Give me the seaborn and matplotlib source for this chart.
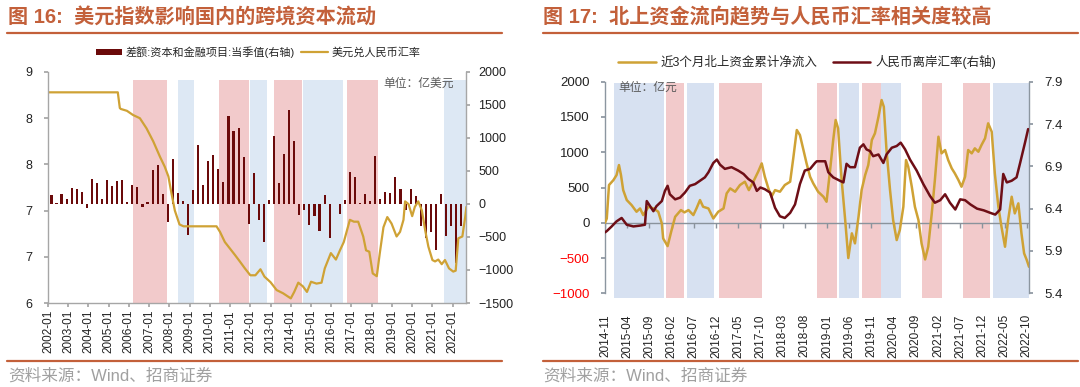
import numpy as np
import pandas as pd
import matplotlib
matplotlib.use("Agg")
import matplotlib.pyplot as plt
import seaborn as sns
from matplotlib.lines import Line2D
from matplotlib.patches import Patch

# =========================
# Data: left chart (figure 16)
# =========================
# capital & financial account balance, quarterly 2002Q1 - 2022Q2 (100 mn USD)
bop_quarters = pd.period_range("2002Q1", "2022Q2", freq="Q")
capital_flow = [141, 15, 150, 75, 247, 227, 177, -60, 384, 318, 81, 369,
                273, 343, 364, 30, 293, 258, -40, 25, 515, 596, 146, -273,
                687, 167, 50, -475, 207, 889, 293, 657, 737, 530, 328, 1338,
                1111, 1156, 717, -303, 465, -247, -581, 66, 1025, 318, 763, 1419,
                960, -167, -96, -313, -187, -414, 131, -515, 5, -146, 66, 480,
                404, 15, 151, 40, 732, 76, 182, 167, 404, 232, -96, 232,
                126, -338, -515, -429, -702, 151, -490, -328, -894, -328]

# USD/CNY (decimal year, rate)
usdcny_t = [2002.0, 2005.45, 2005.55, 2005.6, 2005.9, 2006.2, 2006.54, 2006.87, 2007.2,
            2007.54, 2007.77, 2007.95, 2008.1, 2008.27, 2008.5, 2008.7, 2009.5, 2010.33,
            2010.5, 2010.74, 2010.99, 2011.24, 2011.48, 2011.73, 2012.0, 2012.25, 2012.5,
            2012.7, 2013.0, 2013.3, 2013.62, 2014.0, 2014.17, 2014.37, 2014.6, 2014.8,
            2015.0, 2015.27, 2015.52, 2015.68, 2015.98, 2016.23, 2016.43, 2016.62, 2016.92,
            2017.12, 2017.33, 2017.58, 2017.72, 2017.88, 2018.05, 2018.25, 2018.4, 2018.58,
            2018.77, 2018.98, 2019.23, 2019.4, 2019.57, 2019.65, 2019.82, 2020.0, 2020.13,
            2020.3, 2020.48, 2020.64, 2020.8, 2021.0, 2021.13, 2021.29, 2021.46, 2021.62,
            2021.82, 2022.03, 2022.15, 2022.28, 2022.48, 2022.62, 2022.68]
usdcny = [8.28, 8.28, 8.11, 8.10, 8.08, 8.035, 8.0, 7.89, 7.75,
          7.58, 7.475, 7.37, 7.19, 7.0, 6.85, 6.83, 6.83, 6.83,
          6.77, 6.66, 6.59, 6.52, 6.45, 6.375, 6.30, 6.30, 6.365,
          6.285, 6.225, 6.14, 6.105, 6.05, 6.12, 6.22, 6.18, 6.12,
          6.23, 6.21, 6.22, 6.375, 6.54, 6.47, 6.57, 6.66, 6.90,
          6.88, 6.88, 6.72, 6.57, 6.555, 6.32, 6.29, 6.54, 6.82,
          6.93, 6.86, 6.72, 6.77, 6.90, 7.10, 7.07, 6.94, 7.04,
          7.10, 7.0, 6.79, 6.61, 6.465, 6.45, 6.47, 6.42, 6.465,
          6.375, 6.34, 6.35, 6.70, 6.72, 6.93, 7.04]

years_l = list(range(2002, 2023))
tick_labels_l = [f"{y}-01" for y in years_l]
pink_l = [(2006.2, 2007.86), (2010.44, 2011.93), (2013.16, 2014.53), (2016.79, 2018.31)]
blue_l = [(2008.43, 2009.2), (2012.0, 2012.83), (2014.61, 2016.56), (2021.57, 2022.66)]

# =========================
# Data: right chart (figure 17), x = months since 2014-11
# =========================
north_t = [0.0, 0.4, 0.9, 1.9, 2.6, 3.15, 3.6, 4.1, 4.9, 6.0, 7.1, 7.9, 8.6, 9.8, 10.9,
           12.0, 12.8, 13.1, 14.1, 14.9, 15.8, 17.1, 17.9, 18.8, 19.9, 20.6, 21.4, 22.1,
           23.3, 24.4, 25.5, 26.7, 27.4, 28.2, 29.3, 30.4, 31.5, 32.4, 33.4, 34.5, 35.3,
           36.0, 36.8, 37.5, 38.3, 39.4, 40.5, 41.7, 42.4, 43.2, 43.9, 44.7, 45.4, 46.2,
           46.9, 48.0, 49.2, 49.9, 50.7, 51.4, 51.95, 52.5, 53.3, 54.1, 54.8, 55.6, 56.3,
           57.1, 57.8, 58.6, 59.3, 60.1, 60.8, 61.6, 62.3, 62.8, 63.4, 64.2, 64.9, 65.7,
           66.4, 67.2, 67.8, 68.3, 69.1, 69.8, 70.6, 71.3, 72.1, 72.8, 73.6, 74.3, 75.1,
           75.8, 76.6, 77.3, 78.1, 78.8, 79.6, 80.3, 81.1, 81.8, 82.6, 83.3, 84.1, 84.8,
           85.6, 86.3, 87.1, 87.8, 88.6, 89.3, 90.1, 90.8, 91.6, 92.3, 93.1, 93.8, 94.4,
           95.0, 95.5]
north_flow = [0, 60, 535, 605, 676, 818, 676, 463, 322, 250, 156, 203, 109, 227, 203,
              156, -10, -222, -331, -128, 85, 180, 147, 180, 109, 203, 322, 227,
              203, 61, 156, 203, 416, 487, 440, 535, 582, 463, 582, 724, 842,
              653, 487, 369, 463, 440, 535, 582, 913, 1315, 1244, 1031, 842, 652,
              559, 440, 369, 298, 747, 1173, 1457, 1339, 606, 38, -500, -150, -292,
              85, 464, 677, 818, 1173, 1268, 1504, 1740, 1645, 1031, 464, 38, -245,
              -104, 227, 889, 794, 511, 227, 38, -292, -520, -340, 133, 606, 1220,
              984, 1031, 889, 771, 700, 606, 511, 652, 1031, 984, 1055, 1007, 1102,
              1197, 1410, 1291, 700, 227, -57, -340, 38, 369, 133, 275, -150, -434,
              -529, -624]

cnh_t = [0.0, 0.4, 1.5, 2.6, 3.75, 4.9, 6.4, 7.9, 9.0, 9.4, 9.9, 10.9, 11.6, 12.8, 13.5,
         14.1, 14.6, 15.8, 16.9, 18.0, 19.1, 20.3, 21.4, 22.5, 23.3, 24.4, 25.2, 25.9,
         27.0, 28.5, 30.0, 31.2, 32.3, 33.4, 34.2, 35.0, 36.0, 37.2, 38.3, 39.4, 40.5,
         41.7, 42.8, 43.9, 45.0, 46.2, 47.3, 47.7, 49.6, 50.3, 51.4, 52.9, 53.7, 54.4,
         55.2, 56.3, 57.4, 58.2, 58.9, 59.7, 60.4, 61.6, 62.7, 63.4, 64.6, 65.7, 66.6,
         67.6, 68.7, 70.2, 71.7, 73.2, 74.3, 75.5, 76.6, 77.7, 78.9, 80.0, 81.1, 82.3,
         83.8, 85.3, 86.8, 87.9, 89.0, 89.7, 90.5, 91.6, 92.7, 93.5, 94.6, 95.3]
cnh = [6.12, 6.135, 6.19, 6.25, 6.29, 6.21, 6.19, 6.20, 6.21, 6.49, 6.45, 6.37, 6.43, 6.49, 6.61,
       6.67, 6.57, 6.51, 6.53, 6.59, 6.67, 6.69, 6.73, 6.77, 6.83, 6.94, 6.98, 6.92,
       6.87, 6.89, 6.85, 6.81, 6.75, 6.71, 6.61, 6.65, 6.63, 6.59, 6.41, 6.31, 6.29,
       6.35, 6.45, 6.69, 6.85, 6.87, 6.94, 6.96, 6.96, 6.83, 6.77, 6.73, 6.71, 6.93,
       6.89, 6.89, 7.12, 7.16, 7.10, 7.08, 7.02, 7.04, 6.94, 7.04, 7.12, 7.14, 7.18,
       7.10, 6.98, 6.85, 6.69, 6.55, 6.47, 6.50, 6.57, 6.47, 6.39, 6.51, 6.50, 6.45,
       6.40, 6.38, 6.35, 6.33, 6.39, 6.81, 6.71, 6.73, 6.77, 6.94, 7.18, 7.34]

tick_labels_r = ["2014-11", "2015-04", "2015-09", "2016-02", "2016-07", "2016-12",
                 "2017-05", "2017-10", "2018-03", "2018-08", "2019-01", "2019-06",
                 "2019-11", "2020-04", "2020-09", "2021-02", "2021-07", "2021-12",
                 "2022-05", "2022-10"]
pink_r = [(13.7, 17.9), (25.6, 35.3), (47.8, 52.3), (57.8, 62.1), (71.5, 75.9), (80.6, 86.8)]
blue_r = [(2.1, 13.4), (18.5, 24.5), (52.6, 57.3), (62.1, 66.6), (87.3, 95.5)]

# =========================
# Style
# =========================
sns.set_theme(style="white")
plt.rcParams["font.family"] = ["Liberation Sans", "Noto Sans CJK SC", "DejaVu Sans"]

TITLE_C = "#C3603A"
GOLD = "#CFA235"
MAROON = "#6E0E16"
BAR_C = "#6B0A0A"
PINK = "#F2CACB"
BLUE_L = "#DDE8F4"
BLUE_R = "#D7E1F1"
GRID_C = "#A6A6A6"
SRC_C = "#A0A0A0"

W, H = 1080, 387
fig = plt.figure(figsize=(W / 100, H / 100), dpi=100)


def fx(px):
    return px / W


def fy(py):
    return 1 - py / H


# =========================
# Left chart
# =========================
ax_l = fig.add_axes([fx(48), fy(303), fx(418), 231 / H])
ax_l2 = ax_l.twinx()
ax_l.set_zorder(ax_l2.get_zorder() + 1)
ax_l.patch.set_visible(False)

for a, b in pink_l:
    ax_l2.axvspan(a, b, ymin=0, ymax=0.965, color=PINK, lw=0, zorder=0)
for a, b in blue_l:
    ax_l2.axvspan(a, b, ymin=0, ymax=0.965, color=BLUE_L, lw=0, zorder=0)

bar_x = np.array([p.start_time.year + (p.quarter - 1) * 0.25 + 0.17 for p in bop_quarters])
ax_l2.bar(bar_x, capital_flow, width=0.105, color=BAR_C, edgecolor="none", lw=0, zorder=2)
ax_l2.set_ylim(-1500, 2000)
ax_l2.set_yticks(np.arange(-1500, 2001, 500))

sns.lineplot(x=usdcny_t, y=usdcny, ax=ax_l, color=GOLD, lw=1.6)
ax_l.set_ylim(6.0, 8.5)
ax_l.set_yticks([6.0, 6.5, 7.0, 7.5, 8.0, 8.5])
ax_l.set_yticklabels(["6", "7", "7", "8", "8", "9"])
ax_l.set_xlim(2002.0, 2022.66)
ax_l.set_xticks(years_l)
ax_l.set_xticklabels(tick_labels_l, rotation=90)

for a in (ax_l, ax_l2):
    for s in a.spines.values():
        s.set_visible(False)
    a.grid(False)
    a.set_xlabel("")
    a.set_ylabel("")
ax_l.spines["left"].set_visible(True)
ax_l.spines["bottom"].set_visible(True)
ax_l2.spines["right"].set_visible(True)
for s in (ax_l.spines["left"], ax_l.spines["bottom"], ax_l2.spines["right"]):
    s.set_color(GRID_C)
    s.set_linewidth(1.0)
ax_l.tick_params(axis="y", left=True, direction="out", length=3, color=GRID_C, pad=8,
                 labelsize=9, labelcolor="#222222")
ax_l.tick_params(axis="x", bottom=True, direction="out", length=3, color=GRID_C, pad=2,
                 labelsize=8.5, labelcolor="#222222")
ax_l2.tick_params(axis="y", right=True, direction="out", length=3, color=GRID_C, pad=6,
                  labelsize=9, labelcolor="#222222")

fig.text(fx(383), fy(84), "单位：亿美元", fontsize=8.5, color="#595959",
         va="center", ha="left")

fig.legend(handles=[Patch(facecolor=BAR_C, edgecolor="none"),
                    Line2D([], [], color=GOLD, lw=1.6)],
           labels=["差额:资本和金融项目:当季值(右轴)", "美元兑人民币汇率"],
           loc="center", bbox_to_anchor=(fx(258), fy(52)), ncol=2, frameon=False,
           fontsize=8, handlelength=2.4, handleheight=0.55, handletextpad=0.3,
           columnspacing=0.6)

# =========================
# Right chart
# =========================
ax_r = fig.add_axes([fx(605), fy(293.3), fx(424), 211.6 / H])
ax_r2 = ax_r.twinx()

for a, b in pink_r:
    ax_r.axvspan(a, b, ymin=-0.022, ymax=0.992, color=PINK, lw=0, zorder=0, clip_on=False)
for a, b in blue_r:
    ax_r.axvspan(a, b, ymin=-0.022, ymax=0.992, color=BLUE_R, lw=0, zorder=0, clip_on=False)

sns.lineplot(x=north_t, y=north_flow, ax=ax_r, color=GOLD, lw=1.8, zorder=3)
sns.lineplot(x=cnh_t, y=cnh, ax=ax_r2, color=MAROON, lw=1.8, zorder=3)

xt_r = np.arange(0, 96, 5)
ax_r.set_xlim(0, 95.5)
ax_r.set_ylim(-1000, 2000)
ax_r.set_yticks(np.arange(-1000, 2001, 500))
ax_r2.set_ylim(5.4, 7.9)
ax_r2.set_yticks([5.4, 5.9, 6.4, 6.9, 7.4, 7.9])
ax_r2.set_yticklabels([f"{v:.1f}" for v in [5.4, 5.9, 6.4, 6.9, 7.4, 7.9]])
ax_r.set_xticks(xt_r)
ax_r.set_xticklabels(tick_labels_r, rotation=90)

# zero line acting as the category axis
ax_r.axhline(0, color="#8A939C", lw=1.0, zorder=2)
ax_r.plot(xt_r, np.zeros(len(xt_r)), ls="none", marker=3, ms=3.5, color="#8A939C",
          mew=1.0, zorder=2)

AX_R_C = "#8C96A0"
for a in (ax_r, ax_r2):
    for s in a.spines.values():
        s.set_visible(False)
    a.grid(False)
    a.set_xlabel("")
    a.set_ylabel("")
ax_r.spines["left"].set_visible(True)
ax_r2.spines["right"].set_visible(True)
for s in (ax_r.spines["left"], ax_r2.spines["right"]):
    s.set_color(AX_R_C)
    s.set_linewidth(1.0)
ax_r.tick_params(axis="y", left=True, direction="out", length=3, color=AX_R_C, pad=8,
                 labelsize=9.5, labelcolor="#222222")
ax_r.tick_params(axis="x", bottom=False, pad=9, labelsize=8.5, labelcolor="#222222")
ax_r2.tick_params(axis="y", right=True, direction="out", length=3, color=AX_R_C, pad=8,
                  labelsize=9.5, labelcolor="#222222")
for lab, v in zip(ax_r.get_yticklabels(), np.arange(-1000, 2001, 500)):
    if v < 0:
        lab.set_color("#FF0000")

fig.text(fx(618), fy(88), "单位：亿元", fontsize=8.5, color="#595959",
         va="center", ha="left")

fig.legend(handles=[Line2D([], [], color=GOLD, lw=1.8),
                    Line2D([], [], color=MAROON, lw=1.8)],
           labels=["近3个月北上资金累计净流入", "人民币离岸汇率(右轴)"],
           loc="center", bbox_to_anchor=(fx(807), fy(62)), ncol=2, frameon=False,
           fontsize=9, handlelength=3.0, handletextpad=0.4, columnspacing=1.2)

# =========================
# Titles, rules and sources
# =========================
fig.text(fx(8), fy(17), "图 16:  美元指数影响国内的跨境资本流动", fontsize=14.5,
         fontweight="bold", color=TITLE_C, va="center", ha="left")
fig.text(fx(543), fy(17), "图 17:  北上资金流向趋势与人民币汇率相关度较高", fontsize=14.5,
         fontweight="bold", color=TITLE_C, va="center", ha="left")

for x0, x1 in [(7, 502), (543, 1078)]:
    fig.add_artist(Line2D([fx(x0), fx(x1)], [fy(33), fy(33)], color=TITLE_C, lw=1.6))
    fig.add_artist(Line2D([fx(x0), fx(x1)], [fy(361), fy(361)], color=TITLE_C, lw=1.6))

fig.text(fx(8), fy(376), "资料来源：Wind、招商证券", fontsize=12, color=SRC_C,
         va="center", ha="left")
fig.text(fx(543), fy(376), "资料来源：Wind、招商证券", fontsize=12, color=SRC_C,
         va="center", ha="left")

fig.savefig("out.png", dpi=100)
